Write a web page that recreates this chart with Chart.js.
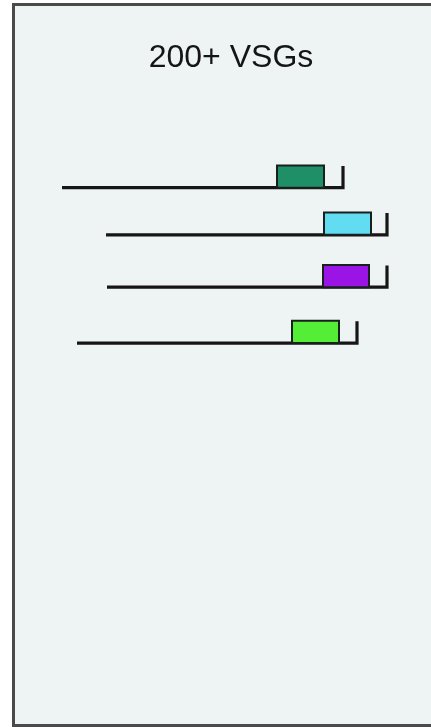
<!DOCTYPE html>
<html>
<head>
<meta charset="utf-8">
<script src="https://cdn.jsdelivr.net/npm/chart.js@4.4.0/dist/chart.umd.min.js"></script>
<style>
    html, body { margin: 0; padding: 0; background: #ffffff; overflow: hidden; }
    .panel {
        position: absolute;
        left: 12px;
        top: 3px;
        width: 432px;
        height: 718px;
        border: 3px solid #4a4a4a;
        background: #eef3f3;
    }
    .chart-wrap { position: relative; width: 100%; height: 100%; }
</style>
</head>
<body>
<div class="panel">
    <div class="chart-wrap"><canvas id="vsgChart"></canvas></div>
</div>
<script>
// Expression-site rows (y = row position, x = arbitrary map units)
const rowBase = [1, 1.91, 2.92, 4];
const lineStart = [4.7, 9.1, 9.2, 6.2];
const lineEnd = [32.8, 37.2, 37.2, 34.2];
const boxStart = [26.2, 30.9, 30.8, 27.7];
const boxEnd = [30.9, 35.6, 35.4, 32.4];
const boxColors = ['#1f8f68', '#62dcf0', '#9a14e6', '#55ee36'];
const boxHeight = 0.43;
const tickHeight = 0.42;

// Build datasets: a box (filled rectangle) and a line with telomere hook per row
const datasets = [];
rowBase.forEach((y, i) => {
    datasets.push({
        data: [
            { x: boxStart[i], y: y },
            { x: boxStart[i], y: y - boxHeight },
            { x: boxEnd[i], y: y - boxHeight },
            { x: boxEnd[i], y: y },
            { x: boxStart[i], y: y }
        ],
        showLine: true,
        fill: 'shape',
        backgroundColor: boxColors[i],
        borderColor: '#18201d',
        borderWidth: 2,
        pointRadius: 0,
        order: 0
    });
    datasets.push({
        data: [
            { x: lineStart[i], y: y },
            { x: lineEnd[i], y: y },
            { x: lineEnd[i], y: y - tickHeight }
        ],
        showLine: true,
        fill: false,
        borderColor: '#161616',
        borderWidth: 3.2,
        borderJoinStyle: 'miter',
        borderCapStyle: 'butt',
        pointRadius: 0,
        order: 1
    });
});

const ctx = document.getElementById('vsgChart').getContext('2d');
new Chart(ctx, {
    type: 'scatter',
    data: { datasets: datasets },
    options: {
        responsive: true,
        maintainAspectRatio: false,
        animation: false,
        layout: { padding: 0 },
        plugins: {
            legend: { display: false },
            tooltip: { enabled: false },
            title: {
                display: true,
                text: '200+ VSGs',
                color: '#151515',
                font: { family: '"Liberation Sans", Arial, sans-serif', size: 32, weight: 'normal' },
                padding: { top: 33, bottom: 8 }
            }
        },
        scales: {
            x: { type: 'linear', display: false, min: 0, max: 43.2 },
            y: { type: 'linear', display: false, reverse: true, min: -0.975, max: 11.353 }
        }
    }
});
</script>
</body>
</html>
